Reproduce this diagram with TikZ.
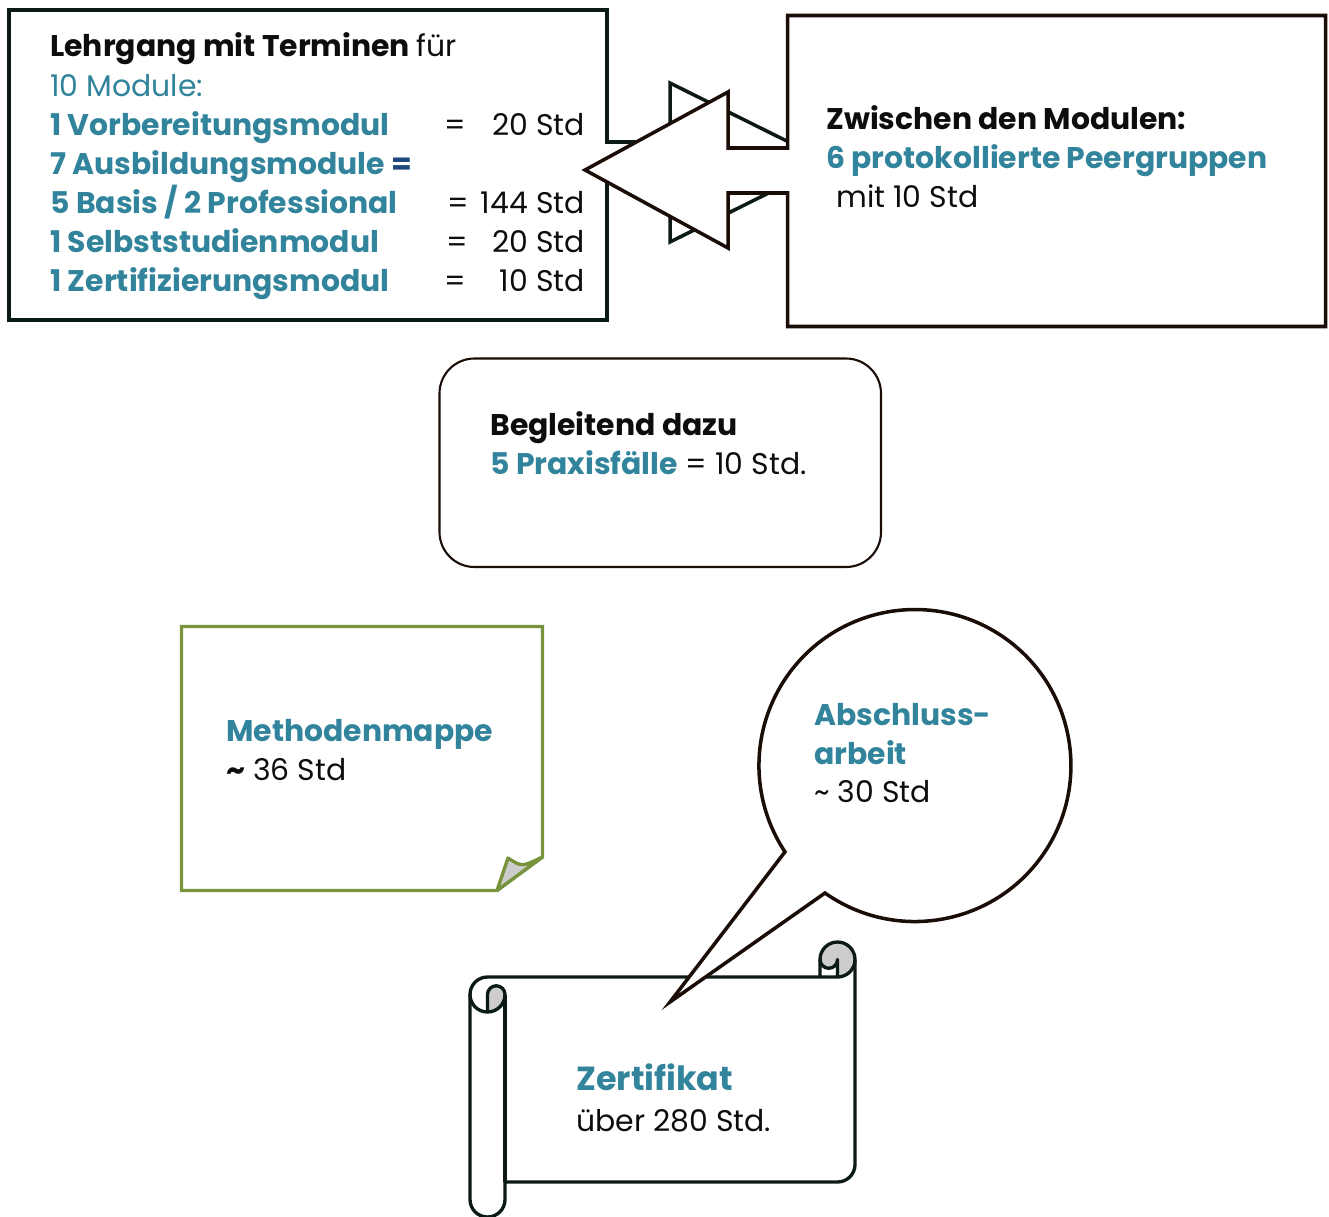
\documentclass[tikz,border=0pt]{standalone}
\usepackage{fontspec}
\setmainfont{Poppins}
\usepackage{tikz}
\usetikzlibrary{positioning}
\definecolor{lgTeal}{HTML}{31849B}
\definecolor{lgInk}{HTML}{0D0D0D}
\definecolor{lgEdge}{HTML}{0B1A14}
\definecolor{lgBrown}{HTML}{1A0C06}
\definecolor{lgGreen}{HTML}{77933C}
\definecolor{lgNavy}{HTML}{1F497D}
\definecolor{lgCurl}{HTML}{CDCDCD}
\newcommand{\lgsize}{\fontsize{17}{22}\selectfont}
\newcommand{\lgbig}{\fontsize{19}{24}\selectfont}
\tikzset{
  lg diagram/.style={x=0.02cm, y=-0.02cm, line join=miter, font=\lgsize},
  lg frame/.style={draw=lgEdge, fill=white, line width=2pt},
  lg round/.style={draw=lgBrown, fill=white, line width=1.2pt, rounded corners=0.7cm},
  lg note/.style={draw=lgGreen, fill=white, line width=1.9pt},
  lg scroll/.style={draw=lgEdge, line width=1.9pt, line join=round},
  lg text/.style={anchor=base west, inner sep=0pt, text=lgInk},
  lg head/.style={lg text, font=\lgsize\bfseries},
  lg key/.style={lg text, text=lgTeal, font=\lgsize\bfseries}
}
\begin{document}
\begin{tikzpicture}[lg diagram]
\useasboundingbox (0,0) rectangle (1329,1217);
% module list with its arrow
\draw[lg frame] (9,10) -- (607,10) -- (607,142) -- (670,142) -- (670,83) -- (830,162.5)
  -- (670,242) -- (670,183) -- (607,183) -- (607,320) -- (9,320) -- cycle;
% peer groups, arrow back to the list
\draw[lg frame, draw=lgBrown] (787.5,15.5) -- (1325.5,15.5) -- (1325.5,326.5) -- (787.5,326.5)
  -- (787.5,193) -- (728,193) -- (728,248) -- (585,170) -- (728,92) -- (728,148) -- (787.5,148) -- cycle;
% practice cases
\draw[lg round] (439.5,358.5) rectangle (881,567);
% folder with curled corner
\draw[lg note] (181.5,626.5) -- (542.5,626.5) -- (542.5,857) -- (497,890.5) -- (181.5,890.5) -- cycle;
\draw[lg note, fill=lgCurl, line join=round] (497,890.5) -- (508,858) .. controls (522,867) .. (542.5,857) -- cycle;
% certificate scroll
\fill[white] (470,994.5) arc[start angle=180, delta angle=90, radius=17.5] -- (820,977) -- (820,959.5)
  arc[start angle=180, delta angle=180, radius=17.5] -- (855,1164.5)
  arc[start angle=0, delta angle=90, radius=17.5] -- (505,1182) -- (505,1199.5)
  arc[start angle=0, delta angle=180, radius=17.5] -- cycle;
\fill[lgCurl] (487.5,1012) arc[start angle=90, delta angle=-90, radius=17.5]
  arc[start angle=0, delta angle=-180, radius=8.75] -- cycle;
\fill[lgCurl] (837.5,977) arc[start angle=90, delta angle=-270, radius=17.5]
  arc[start angle=180, delta angle=-180, radius=8.75] -- cycle;
\draw[lg scroll] (470,994.5) arc[start angle=180, delta angle=90, radius=17.5] -- (820,977) -- (820,959.5)
  arc[start angle=180, delta angle=180, radius=17.5] -- (855,1164.5)
  arc[start angle=0, delta angle=90, radius=17.5] -- (505,1182) -- (505,1199.5)
  arc[start angle=0, delta angle=180, radius=17.5] -- cycle;
\draw[lg scroll] (820,977) -- (837.5,977) arc[start angle=90, delta angle=-90, radius=17.5];
\draw[lg scroll] (837.5,977) -- (837.5,959.5) arc[start angle=0, delta angle=180, radius=8.75];
\draw[lg scroll] (487.5,1012) -- (487.5,994.5) arc[start angle=180, delta angle=180, radius=8.75]
  arc[start angle=0, delta angle=180, radius=17.5];
\draw[lg scroll] (505,994.5) -- (505,1182);
% speech bubble for the thesis
\draw[lg frame, draw=lgBrown] (825,893) arc[start angle=125.2, end angle=-213.6, radius=156]
  -- (670,1002) -- cycle;

\node[lg head] (lehrgang) at (50,56) {Lehrgang mit Terminen \mdseries für};
\node[lg text, text=lgTeal] (module) at (50,96) {10 Module:};
\foreach \i/\y/\name/\eqx/\val in {1/135/{1 Vorbereitungsmodul}/455/20 Std,
    3/213/{5 Basis / 2 Professional}/458/144 Std,
    4/252/{1 Selbststudienmodul}/457/20 Std,
    5/291/{1 Zertifizierungsmodul}/455/10 Std}{
  \node[lg key] (mod\i) at (50,\y) {\name};
  \node[lg text, anchor=base] (eq\i) at (\eqx,\y) {=};
  \node[lg text, anchor=base east] (std\i) at (585,\y) {\val};
}
\node[lg key] (mod2) at (50,174) {7 Ausbildungsmodule \textcolor{lgNavy}{=}};

\node[lg head] (zwischen) at (826,129) {Zwischen den Modulen:};
\node[lg key] (peer) at (826,168) {6 protokollierte Peergruppen};
\node[lg text] (peerstd) at (836,207) {mit 10 Std};

\node[lg head] (begleit) at (490,435) {Begleitend dazu};
\node[lg text] (praxis) at (490,474) {\textcolor{lgTeal}{\bfseries 5 Praxisfälle} = 10 Std.};

\node[lg key] (mappe) at (226,741) {Methodenmappe};
\node[lg text] (mappestd) at (226,780) {\textbf{\textasciitilde} 36 Std};

\node[lg key] (abschluss) at (814,725) {Abschluss-};
\node[lg key] (arbeit) at (814,764) {arbeit};
\node[lg text] (arbeitstd) at (814,802) {\textasciitilde{} 30 Std};

\node[lg key, font=\lgbig\bfseries] (zert) at (576,1090) {Zertifikat};
\node[lg text] (zertstd) at (576,1131) {über 280 Std.};
\end{tikzpicture}
\end{document}
